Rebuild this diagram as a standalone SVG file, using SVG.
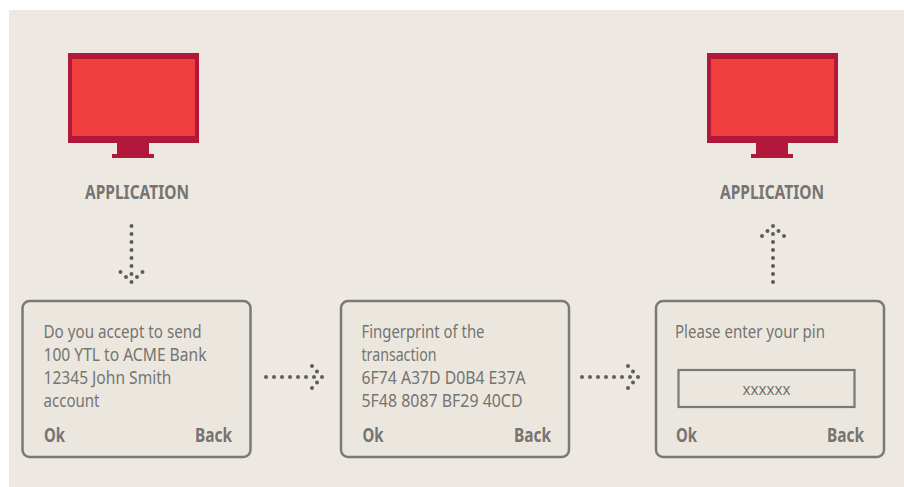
<svg xmlns="http://www.w3.org/2000/svg" width="904" height="487" viewBox="0 0 904 487">
<style>
text{font-family:"Noto Sans","Open Sans","Liberation Sans",sans-serif;fill:#757472}
.t{font-size:18px}
.b{font-size:19px;font-weight:700}
.box{fill:#ebe7de;stroke:#7b7976;stroke-width:2.5}
.bez{fill:#b2183a}
.scr{fill:#f13e3f}
.d{fill:#5f5d5a}
</style>
<defs>
<g id="mon"><rect class="bez" x="0" y="0" width="131" height="90"/><rect class="scr" x="4" y="6" width="123" height="77"/><rect class="bez" x="49" y="90" width="32" height="11"/><rect class="bez" x="44" y="101" width="42" height="4"/></g>
<g id="arrow"><circle class="d" cx="0" cy="0" r="2"/><circle class="d" cx="8" cy="0" r="2"/><circle class="d" cx="16" cy="0" r="2"/><circle class="d" cx="24" cy="0" r="2"/><circle class="d" cx="32" cy="0" r="2"/><circle class="d" cx="40" cy="0" r="2"/><circle class="d" cx="48" cy="0" r="2"/><circle class="d" cx="56" cy="0" r="2"/><circle class="d" cx="46" cy="-11" r="2"/><circle class="d" cx="51" cy="-5.500" r="2"/><circle class="d" cx="51" cy="5.500" r="2"/><circle class="d" cx="46" cy="11" r="2"/></g>
</defs>
<rect width="904" height="487" fill="#fff"/>
<rect x="9" y="10" width="895" height="477" fill="#ede9e2"/>
<g id="connectors">
<use href="#arrow" transform="translate(131.500,226) rotate(90)"/>
<use href="#arrow" transform="translate(773,282) rotate(-90)"/>
<use href="#arrow" transform="translate(266,377)"/>
<use href="#arrow" transform="translate(582,377)"/>
</g>
<g id="app-left"><use href="#mon" x="68" y="53"/><text class="b" x="137" y="198.500" text-anchor="middle" textLength="104" lengthAdjust="spacingAndGlyphs">APPLICATION</text></g>
<g id="app-right"><use href="#mon" x="707" y="53"/><text class="b" x="772" y="198.500" text-anchor="middle" textLength="104" lengthAdjust="spacingAndGlyphs">APPLICATION</text></g>
<g id="screen-1"><rect class="box" x="22.500" y="301" width="228" height="156" rx="7"/>
<text class="t" x="43.500" y="338" textLength="158" lengthAdjust="spacingAndGlyphs">Do you accept to send</text>
<text class="t" x="43.500" y="361" textLength="163" lengthAdjust="spacingAndGlyphs">100 YTL to ACME Bank</text>
<text class="t" x="43.500" y="383.500" textLength="128" lengthAdjust="spacingAndGlyphs">12345 John Smith</text>
<text class="t" x="43.500" y="406.500" textLength="56" lengthAdjust="spacingAndGlyphs">account</text>
<text class="b" x="44" y="441.500" textLength="21" lengthAdjust="spacingAndGlyphs">Ok</text>
<text class="b" x="195" y="441.500" textLength="37" lengthAdjust="spacingAndGlyphs">Back</text></g>
<g id="screen-2"><rect class="box" x="341" y="301" width="228" height="156" rx="7"/>
<text class="t" x="361.500" y="338" textLength="123" lengthAdjust="spacingAndGlyphs">Fingerprint of the</text>
<text class="t" x="361.500" y="361" textLength="75" lengthAdjust="spacingAndGlyphs">transaction</text>
<text class="t" x="361.500" y="383.500" textLength="164" lengthAdjust="spacingAndGlyphs">6F74 A37D D0B4 E37A</text>
<text class="t" x="361.500" y="406.500" textLength="161" lengthAdjust="spacingAndGlyphs">5F48 8087 BF29 40CD</text>
<text class="b" x="362.500" y="441.500" textLength="21" lengthAdjust="spacingAndGlyphs">Ok</text>
<text class="b" x="514" y="441.500" textLength="37" lengthAdjust="spacingAndGlyphs">Back</text></g>
<g id="screen-3"><rect class="box" x="656" y="301" width="228" height="156" rx="7"/>
<text class="t" x="675" y="338" textLength="150" lengthAdjust="spacingAndGlyphs">Please enter your pin</text>
<rect x="678.500" y="370" width="176" height="37" fill="none" stroke="#7b7976" stroke-width="2.200"/>
<text class="t" x="742.500" y="395" style="font-size:17px" textLength="48" lengthAdjust="spacingAndGlyphs">xxxxxx</text>
<text class="b" x="676" y="441.500" textLength="21" lengthAdjust="spacingAndGlyphs">Ok</text>
<text class="b" x="827" y="441.500" textLength="37" lengthAdjust="spacingAndGlyphs">Back</text></g>
</svg>
